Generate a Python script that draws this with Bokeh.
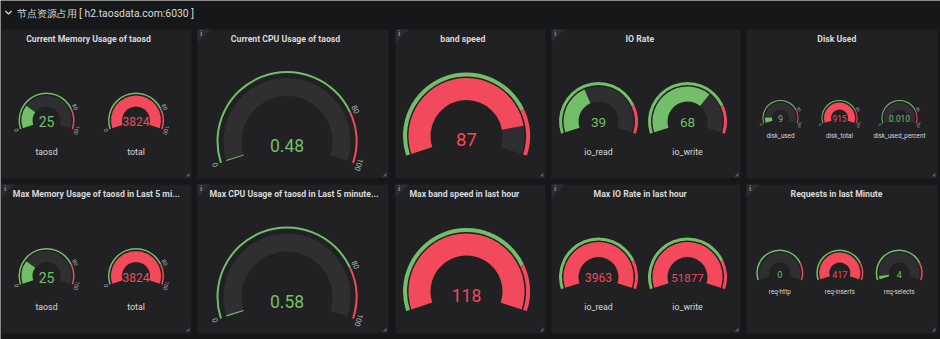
import math
from bokeh.plotting import figure
from bokeh.models import Range1d, ColumnDataSource
from bokeh.core.properties import value
from bokeh.embed import file_html
from bokeh.resources import INLINE

W, H = 940, 339

# ---------------- data ----------------
header_text = "节点资源占用 [ h2.taosdata.com:6030 ]"
row1_titles = ["Current Memory Usage of taosd", "Current CPU Usage of taosd",
               "band speed", "IO Rate", "Disk Used"]
row2_titles = ["Max Memory Usage of taosd in Last 5 mi...",
               "Max CPU Usage of taosd in Last 5 minute...",
               "Max band speed in last hour", "Max IO Rate in last hour",
               "Requests in last Minute"]

mem_labels = ["taosd", "total"]
mem_current = [25, 3824]
mem_max5 = [25, 3824]
cpu_current = [0.48]
cpu_max5 = [0.58]
cpu_decimals = 2
band_current = [87]
band_max_hour = [118]
io_labels = ["io_read", "io_write"]
io_current = [39, 68]
io_max_hour = [3963, 51877]
disk_labels = ["disk_used", "disk_total", "disk_used_percent"]
disk_values = [9, 915, 0.010]
disk_decimals = [0, 0, 3]
req_labels = ["req-http", "req-inserts", "req-selects"]
req_values = [0, 417, 4]

gauge_min = 0
gauge_max = 100
threshold_red = 80
threshold_ticks = [0, 80, 100]

# ---------------- style ----------------
PAGE_BG = "#161719"
PANEL_BG = "#212124"
GAUGE_BG = "#2f2f32"
GREEN = "#73BF69"
RED = "#F2495C"
TXT = "#d8d9da"
TICK_TXT = "#b4b6ba"
FONT = "Roboto"

START = 198.0
SWEEP = 216.0

wd = {k: [] for k in ["x", "y", "ri", "ro", "a0", "a1", "c"]}
tx = {k: [] for k in ["x", "y", "t", "size", "color", "angle", "align", "style"]}


def ang(v):
    f = (min(max(v, gauge_min), gauge_max) - gauge_min) / (gauge_max - gauge_min)
    return math.radians(START - f * SWEEP)


def wedge(cx, cy, ri, ro, a0, a1, c):
    wd["x"].append(cx); wd["y"].append(H - cy)
    wd["ri"].append(ri); wd["ro"].append(ro)
    wd["a0"].append(a0); wd["a1"].append(a1); wd["c"].append(c)


def text(x, y, t, size, color, angle=0.0, align="center", style="normal"):
    tx["x"].append(x); tx["y"].append(H - y); tx["t"].append(t)
    tx["size"].append("%.1fpx" % size); tx["color"].append(color)
    tx["angle"].append(angle); tx["align"].append(align); tx["style"].append(style)


def gauge(cx, cy, val, dec, R, t, g, w, fs, voff=0.0, tfs=None):
    a_lo = math.radians(START - SWEEP)
    a_hi = math.radians(START)
    a_thr = ang(threshold_red)
    wedge(cx, cy, R - t, R, a_thr, a_hi, GREEN)
    wedge(cx, cy, R - t, R, a_lo, a_thr, RED)
    ro = R - t - g
    ri = ro - w
    wedge(cx, cy, ri, ro, a_lo, a_hi, GAUGE_BG)
    col = RED if val >= threshold_red else GREEN
    if val > gauge_min:
        wedge(cx, cy, ri, ro, ang(val), a_hi, col)
    text(cx, cy + voff, f"{val:.{dec}f}", fs, col)
    if tfs:
        r = R + tfs * 0.65
        for tk in threshold_ticks:
            a = ang(tk)
            text(cx + r * math.cos(a), cy - r * math.sin(a), str(tk), tfs,
                 TICK_TXT, angle=a - math.pi / 2)


# panels (screen coords)
cols = [(1, 191), (197, 388), (395, 545), (551, 740), (746, 937)]
rows = [(29, 178), (184, 333)]
info_flags = [[False, True, True, True, False], [True, True, True, True, True]]
DY = 155.5

p = figure(width=W, height=H, x_range=Range1d(0, W), y_range=Range1d(0, H),
           toolbar_location=None, output_backend="svg", min_border=0)
p.axis.visible = False
p.grid.visible = False
p.outline_line_color = None
p.background_fill_color = PAGE_BG
p.border_fill_color = PAGE_BG

L, R_, T, B = [], [], [], []
ixs, iys = [], []
hxs, hys = [], []
for ri_, (y0, y1) in enumerate(rows):
    for ci, (x0, x1) in enumerate(cols):
        L.append(x0); R_.append(x1); T.append(H - y0); B.append(H - y1)
        if info_flags[ri_][ci]:
            ixs.append([x0, x0 + 13, x0]); iys.append([H - y0, H - y0, H - y0 - 13])
            text(x0 + 3.5, y0 + 4.5, "i", 6.5, "#9a9ca0", style="bold")
        hxs.append([x1 - 2, x1 - 2, x1 - 6]); hys.append([H - y1 + 2, H - y1 + 6, H - y1 + 2])
p.quad(left=L, right=R_, top=T, bottom=B, color=PANEL_BG, line_color=None)
p.patches(xs=ixs, ys=iys, color="#2c2d31", line_color=None)
p.patches(xs=hxs, ys=hys, color="#55575c", line_color=None)

# header
p.line(x=[5, 8, 11], y=[H - 10.5, H - 13.5, H - 10.5], line_color=TXT, line_width=1.2)
text(16, 12.5, header_text, 10.4, TXT, align="left")

# titles
TFS = 8.7
r1_tc = [88, 285, 462.3, 639.3, 836.3]
for t_, x in zip(row1_titles, r1_tc):
    text(x, 38, t_, TFS, TXT, style="bold")
r2_pos = [(12.3, "left"), (209, "left"), (409, "left"), (639.7, "center"), (836, "center")]
for t_, (x, al) in zip(row2_titles, r2_pos):
    text(x, 38 + DY, t_, TFS, TXT, align=al, style="bold")

# memory gauges
mem_cx = [46, 135.5]
for row_vals, dy in [(mem_current, 0), (mem_max5, DY)]:
    for cx, v, lab in zip(mem_cx, row_vals, mem_labels):
        fs = 14 if len(str(v)) <= 2 else 12
        gauge(cx, 120 + dy, v, 0, 28, 1.5, 1.5, 11, fs, voff=1, tfs=5.5)
        text(cx, 151 + dy, lab, 8.8, TXT)

# cpu gauges
for v, dy in [(cpu_current[0], 0), (cpu_max5[0], DY)]:
    gauge(286.5, 141 + dy, v, cpu_decimals, 70.5, 2, 5, 18, 17.5, voff=4, tfs=7.5)

# band speed
for v, dy in [(band_current[0], 0), (band_max_hour[0], DY)]:
    fs = 18.5 if len(str(v)) <= 2 else 17.5
    gauge(466, 135.5 + dy, v, 0, 63.5, 4, 1.5, 22, fs, voff=3.5)

# io
io_cx = [598, 687]
for row_vals, dy, fss in [(io_current, 0, [13.5, 13.5]), (io_max_hour, DY, [12, 11.5])]:
    for cx, v, lab, fs in zip(io_cx, row_vals, io_labels, fss):
        gauge(cx, 121 + dy, v, 0, 39.5, 3, 1.5, 15, fs, voff=0.5)
        text(cx, 151 + dy, lab, 8.8, TXT)

# disk
disk_cx = [780, 839, 899]
for cx, v, dec, lab in zip(disk_cx, disk_values, disk_decimals, disk_labels):
    fs = 9 if len(f"{v:.{dec}f}") <= 2 else 8.3
    gauge(cx, 117.5, v, dec, 18, 1, 1.5, 7, fs, voff=0.3, tfs=3.8)
    text(cx, 135.7, lab, 6.3, TXT)

# requests
req_cx = [779.3, 839.3, 898.7]
for cx, v, lab in zip(req_cx, req_values, req_labels):
    gauge(cx, 272.5, v, 0, 23.5, 1.5, 1.5, 10, 9, voff=1)
    text(cx, 291.3, lab, 6.3, TXT)

p.annular_wedge(x="x", y="y", inner_radius="ri", outer_radius="ro",
                start_angle="a0", end_angle="a1", color="c", line_color=None,
                source=ColumnDataSource(wd))
p.text(x="x", y="y", text="t", text_font_size="size", text_color="color",
       angle="angle", text_align="align", text_font_style="style",
       text_baseline="middle", text_font=value(FONT), source=ColumnDataSource(tx))

open("out.html", "w").write(file_html(p, INLINE))
